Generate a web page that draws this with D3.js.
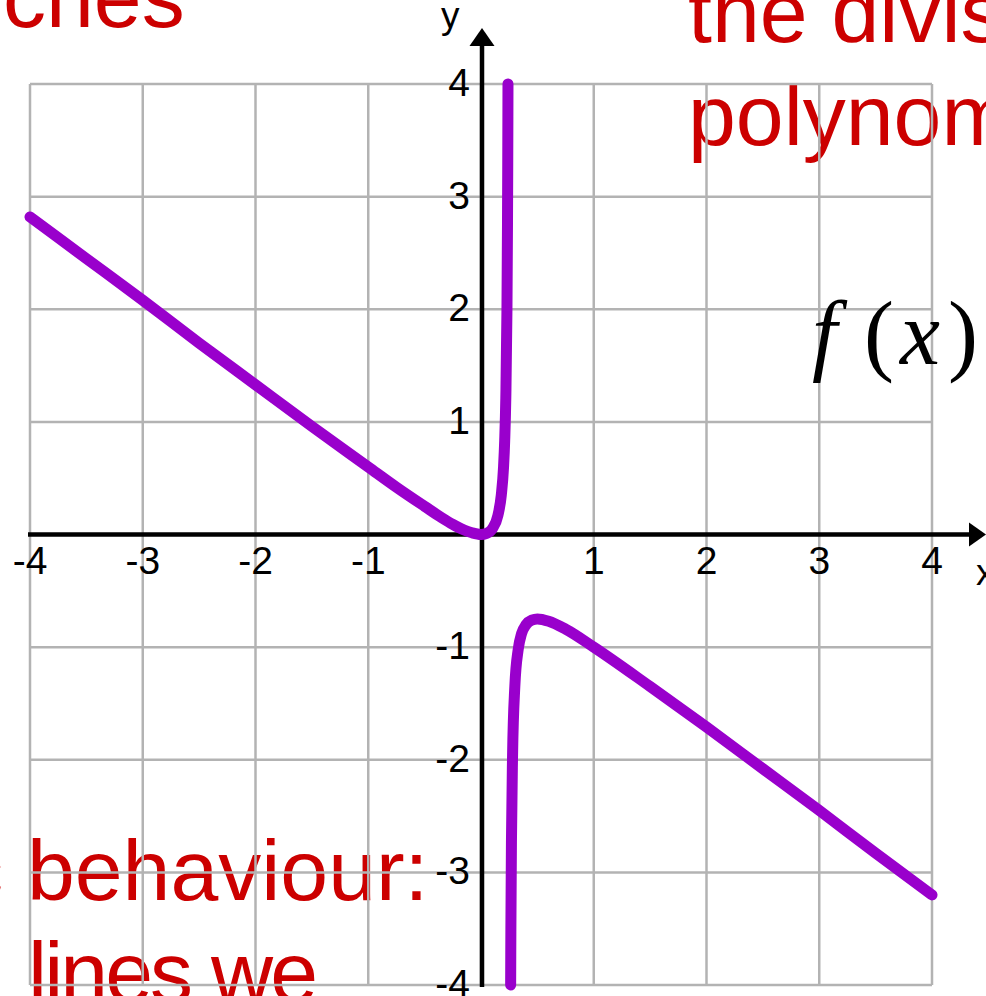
<!DOCTYPE html>
<html>
<head>
<meta charset="utf-8">
<script src="https://cdn.jsdelivr.net/npm/d3@7"></script>
<style>
  html, body { margin: 0; padding: 0; background: #ffffff; overflow: hidden; }
  svg { display: block; }
</style>
</head>
<body>
<svg id="chart" width="986" height="996"></svg>
<script>
// ---- data ----
const gridValues = [-4, -3, -2, -1, 0, 1, 2, 3, 4];
const xTickLabels = [-4, -3, -2, -1, 1, 2, 3, 4];
const yTickLabels = [-4, -3, -2, -1, 1, 2, 3, 4];

// branch left of the vertical asymptote
const branch1X = [-4, -3.5, -3, -2.5, -2, -1.5, -1, -0.75, -0.5, -0.35, -0.25, -0.15, -0.08, 0, 0.05, 0.1, 0.15, 0.18, 0.2, 0.21, 0.22, 0.23, 0.235, 0.237, 0.2385, 0.2393];
const branch1Y = [2.82, 2.45, 2.08, 1.70, 1.33, 0.96, 0.60, 0.42, 0.25, 0.15, 0.09, 0.04, 0.015, 0, 0.01, 0.05, 0.17, 0.35, 0.60, 0.83, 1.21, 1.98, 2.76, 3.24, 3.71, 4.0];

// branch right of the vertical asymptote
const branch2X = [0.263, 0.264, 0.265, 0.27, 0.28, 0.3, 0.33, 0.36, 0.4, 0.45, 0.5, 0.6, 0.75, 1, 1.5, 2, 2.5, 3, 3.5, 4];
const branch2Y = [-4.0, -3.73, -3.51, -2.73, -1.96, -1.35, -1.02, -0.88, -0.80, -0.76, -0.75, -0.77, -0.84, -1.0, -1.35, -1.71, -2.08, -2.45, -2.83, -3.2];

const topTextLeft = ["ches"];
const topTextRight = ["the divis", "polynom"];
const bottomTextLeft = ["c behaviour:", "lines we"];

// ---- drawing ----
const svg = d3.select("#chart");
const x = d3.scaleLinear().domain([-4, 4]).range([30, 932]);
const y = d3.scaleLinear().domain([-4, 4]).range([985, 84]);

const red = "#cc0000";
const redFont = "'Liberation Sans', Arial, Helvetica, sans-serif";

// red background text (under the grid)
const bg = svg.append("g");
bg.append("text").attr("x", 3).attr("y", 27)
  .attr("fill", red).attr("font-family", redFont).attr("font-size", 86)
  .text(topTextLeft[0]);
bg.selectAll("text.tr").data(topTextRight).join("text").attr("class", "tr")
  .attr("x", 688).attr("y", (d, i) => 42 + i * 103)
  .attr("fill", red).attr("font-family", redFont).attr("font-size", 86)
  .text(d => d);
bg.selectAll("text.bl").data(bottomTextLeft).join("text").attr("class", "bl")
  .attr("x", (d, i) => i === 0 ? -40 : 28).attr("y", (d, i) => 900 + i * 102)
  .attr("fill", red).attr("font-family", redFont).attr("font-size", 86)
  .attr("textLength", (d, i) => i === 1 ? 290 : null)
  .text(d => d);

// grid
const grid = svg.append("g").attr("stroke", "#b3b3b3").attr("stroke-width", 2.5);
grid.selectAll("line.v").data(gridValues).join("line").attr("class", "v")
  .attr("x1", d => x(d)).attr("x2", d => x(d))
  .attr("y1", y(4)).attr("y2", y(-4));
grid.selectAll("line.h").data(gridValues).join("line").attr("class", "h")
  .attr("y1", d => y(d)).attr("y2", d => y(d))
  .attr("x1", x(-4)).attr("x2", x(4));

// axes
const x0 = x(0) + 1, y0 = y(0);
const axes = svg.append("g");
axes.append("line").attr("x1", x(-4) - 2).attr("x2", 970).attr("y1", y0).attr("y2", y0)
  .attr("stroke", "#000").attr("stroke-width", 4.5);
axes.append("line").attr("x1", x0).attr("x2", x0).attr("y1", y(-4) + 2).attr("y2", 45)
  .attr("stroke", "#000").attr("stroke-width", 4.5);
axes.append("path").attr("d", `M986,${y0} L969,${y0 - 12} L969,${y0 + 12} Z`).attr("fill", "#000");
axes.append("path").attr("d", `M${x0},28 L${x0 - 12.5},46 L${x0 + 12.5},46 Z`).attr("fill", "#000");

const labFont = "'Liberation Sans', Arial, Helvetica, sans-serif";
axes.selectAll("text.xl").data(xTickLabels).join("text").attr("class", "xl")
  .attr("x", d => x(d)).attr("y", y0 + 39)
  .attr("text-anchor", "middle").attr("font-family", labFont).attr("font-size", 39)
  .attr("fill", "#000").text(d => String(d));
axes.selectAll("text.yl").data(yTickLabels).join("text").attr("class", "yl")
  .attr("x", 470).attr("y", d => y(d) + 12)
  .attr("text-anchor", "end").attr("font-family", labFont).attr("font-size", 39)
  .attr("fill", "#000").text(d => String(d));
axes.append("text").attr("x", 441).attr("y", 28)
  .attr("font-family", labFont).attr("font-size", 37).attr("fill", "#000").text("y");
axes.append("text").attr("x", 976).attr("y", 585)
  .attr("font-family", labFont).attr("font-size", 37).attr("fill", "#000").text("x");

// curve
const line = d3.line().x(d => x(d[0])).y(d => y(d[1])).curve(d3.curveMonotoneX);
const curves = [d3.zip(branch1X, branch1Y), d3.zip(branch2X, branch2Y)];
svg.append("g").selectAll("path").data(curves).join("path")
  .attr("d", line).attr("fill", "none")
  .attr("stroke", "#9900cc").attr("stroke-width", 11)
  .attr("stroke-linecap", "round").attr("stroke-linejoin", "round");

// f(x) label
const fx = svg.append("text").attr("y", 364)
  .attr("font-family", "'Liberation Serif', 'Times New Roman', serif").attr("font-size", 90).attr("fill", "#000");
fx.append("tspan").attr("x", 812).attr("font-style", "italic").text("f");
fx.append("tspan").attr("x", 864).text("(");
fx.append("tspan").attr("x", 900).attr("font-style", "italic").text("x");
fx.append("tspan").attr("x", 948).text(")");
</script>
</body>
</html>
